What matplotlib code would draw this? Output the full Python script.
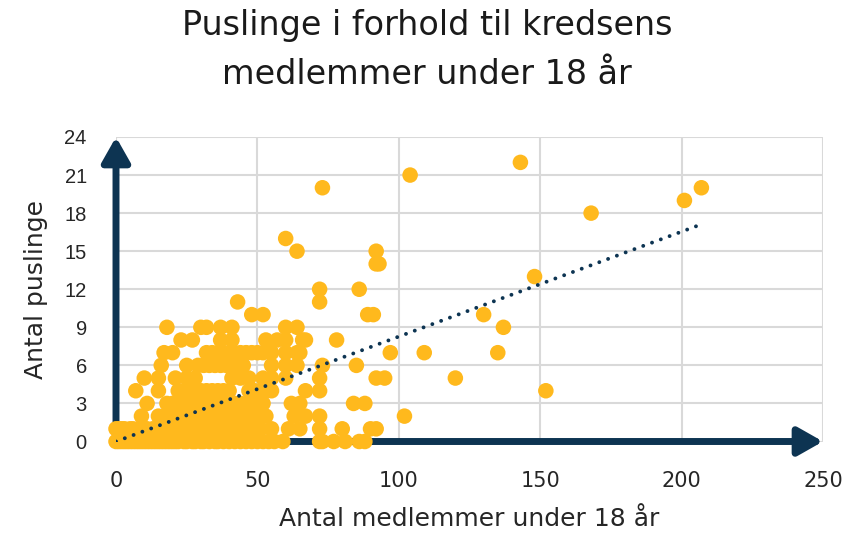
import numpy as np
import matplotlib.pyplot as plt
from matplotlib.patches import FancyArrowPatch

# medlemmer under 18 aar (x) og antal puslinge (y), aflaest raekke for raekke
y0_x = [0, 1, 2, 3, 4, 5, 6, 7, 8, 9, 10, 11, 12, 13, 14, 15, 16, 17, 18, 19, 20, 21, 22, 24,
        25, 27, 28, 30, 31, 33, 35, 36, 38, 40, 42, 44, 46, 48, 50, 52, 54, 56, 59, 72, 73, 77,
        81, 86, 88]
y1_x = [0, 1, 2, 3, 5, 6, 8, 10, 11, 13, 15, 17, 19, 20, 22, 24, 26, 28, 30, 32, 34, 36, 38,
        40, 42, 44, 46, 48, 51, 55, 61, 65, 72, 80, 90, 92]
y2_x = [9, 15, 17, 19, 21, 23, 25, 27, 29, 31, 33, 35, 37, 39, 41, 43, 45, 47, 50, 53, 63, 67,
        72, 102]
y3_x = [11, 18, 20, 22, 24, 26, 28, 30, 33, 36, 38, 40, 42, 44, 46, 49, 52, 62, 65, 84, 88]
y4_x = [7, 15, 22, 24, 26, 28, 30, 32, 34, 36, 38, 40, 47, 49, 51, 53, 55, 67, 72, 152]
y5_x = [10, 15, 21, 25, 28, 41, 44, 47, 52, 55, 60, 72, 92, 95, 120]
y6_x = [16, 25, 29, 31, 33, 35, 37, 39, 41, 43, 45, 55, 60, 64, 73, 85]
y7_x = [17, 20, 32, 34, 36, 38, 40, 42, 44, 46, 48, 50, 52, 55, 60, 64, 65, 97, 109, 135]
y8_x = [23, 27, 37, 41, 53, 57, 60, 66, 67, 78]
y9_x = [18, 30, 32, 37, 41, 60, 64, 137]
y10_x = [48, 52, 89, 91, 130]
high_x = [43, 72, 72, 86, 148, 92, 93, 64, 92, 60, 168, 201, 73, 207, 104, 143]
high_y = [11, 11, 12, 12, 13, 14, 14, 15, 15, 16, 18, 19, 20, 20, 21, 22]

rows = [y0_x, y1_x, y2_x, y3_x, y4_x, y5_x, y6_x, y7_x, y8_x, y9_x, y10_x]
medlemmer = np.array(sum(rows, []) + high_x, dtype=float)
puslinge = np.array(sum([[i] * len(r) for i, r in enumerate(rows)], []) + high_y, dtype=float)

# tendenslinje aflaest fra billedet
trend_slope = 0.0827
trend_intercept = 0.0

x_ticks = [0, 50, 100, 150, 200, 250]
y_ticks = [0, 3, 6, 9, 12, 15, 18, 21, 24]

navy = '#0D3452'
gul = '#FFB91D'
tekst = '#262626'

fig = plt.figure(figsize=(8.68, 5.34), dpi=100)
ax = fig.add_axes([116/868, 1-441.5/534, (823-116)/868, (441.5-137)/534])

ax.set_xlim(0, 250)
ax.set_ylim(0, 24)
ax.set_xticks(x_ticks)
ax.set_yticks(y_ticks)
ax.grid(color='#D9D9D9', lw=1.5, zorder=0)
ax.set_axisbelow(True)
for s in ax.spines.values():
    s.set_visible(False)
ax.xaxis.set_tick_params(length=0, pad=21, labelsize=15, labelcolor=tekst)
ax.yaxis.set_tick_params(length=0, pad=21, labelsize=14.5, labelcolor=tekst)
for t in ax.get_yticklabels():
    t.set_family('Liberation Sans')

# akser som pile
for xy_end, xy_start in [((0, 24), (0, -0.15)), ((250, 0), (0, 0))]:
    arr = FancyArrowPatch(xy_start, xy_end, arrowstyle='-|>,head_length=15,head_width=8.5',
                          mutation_scale=1, lw=5, color=navy, shrinkA=0, shrinkB=0,
                          clip_on=False, zorder=2)
    ax.add_patch(arr)

ax.scatter(medlemmer, puslinge, s=125, color=gul, edgecolors='none', zorder=3, clip_on=False)

tx = np.array([medlemmer.min(), medlemmer.max()])
ax.plot(tx, trend_slope*tx + trend_intercept, color=navy, lw=2.8,
        linestyle=(0, (0.01, 2.4)), dash_capstyle='round', zorder=4)

ax.set_xlabel('Antal medlemmer under 18 år', fontsize=18, color=tekst, labelpad=12)
ax.set_ylabel('Antal puslinge', fontsize=18, color=tekst, labelpad=12)

fig.text(0.492, 1-25/534, 'Puslinge i forhold til kredsens', ha='center', va='center',
         fontsize=24, color='#1a1a1a')
fig.text(0.492, 1-75/534, 'medlemmer under 18 år', ha='center', va='center',
         fontsize=24, color='#1a1a1a')

fig.savefig('out.png', dpi=100)
